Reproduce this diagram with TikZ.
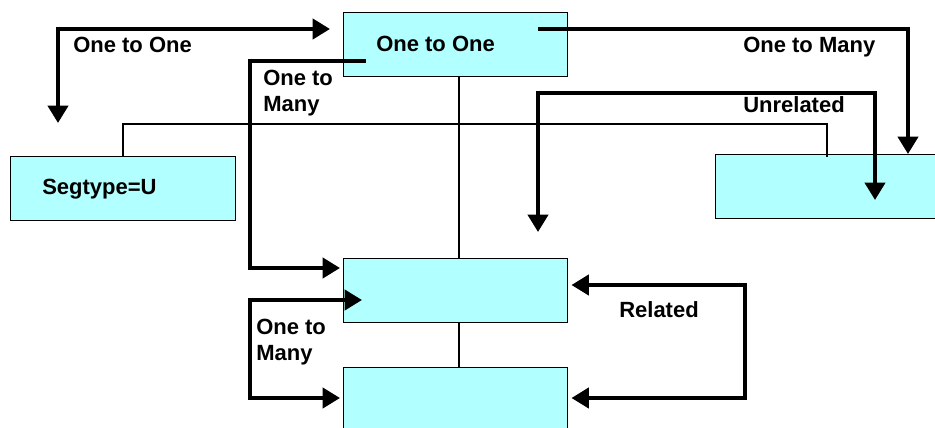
\documentclass[tikz,border=0pt]{standalone}
\usepackage{fontspec}
\setmainfont{Liberation Sans}
\usetikzlibrary{arrows.meta,calc}
\definecolor{boxcyan}{RGB}{178,255,255}
\begin{document}
\begin{tikzpicture}[x=0.75pt,y=-0.75pt,
  box/.style={draw=black,line width=1.1pt,fill=boxcyan,inner sep=0pt,anchor=north west,minimum width=168pt,minimum height=48pt},
  tip/.tip={Triangle[width=15pt,length=13pt]},
  conn/.style={line width=3pt,-tip},
  dconn/.style={line width=3pt,tip-tip},
  tree/.style={line width=1pt},
  lbl/.style={font=\bfseries\fontsize{16.5}{19.5}\selectfont,inner sep=0pt,align=left}]
\useasboundingbox (0,0) rectangle (935,428);
\clip (0,0) rectangle (935,428);
% boxes
\node[box] (top) at (343,12) {};
\node[box,minimum width=168.75pt] (seg) at (10,156) {};
\node[box,minimum width=180pt] (rbox) at (715,154) {};
\node[box] (mid) at (343,258) {};
\node[box,minimum height=60pt] (bot) at (343,367) {};
% tree lines
\coordinate (t1) at (123,124);
\coordinate (t2) at (827,124);
\coordinate (t3) at (827,157);
\draw[tree] (seg.north -| t1) -- (t1) -- (t2) -- (t3);
\draw[tree] (top.south -| 459,0) -- (mid.north -| 459,0);
\draw[tree] (mid.south -| 459,0) -- (bot.north -| 459,0);
% texts
\node[lbl,anchor=base west] (ttop) at (376,52) {One to One};
\node[lbl,anchor=base west] (tseg) at (42,194) {Segtype=U};
\node[lbl,anchor=base west] (l1) at (73,53) {One to One};
\node[lbl,anchor=base west] (l2) at (743,53) {One to Many};
\node[lbl,anchor=base west] (l3) at (743,113) {Unrelated};
\node[lbl,anchor=north west] (l4) at (263,70) {One to\\Many};
\node[lbl,anchor=north west] (l5) at (256,319) {One to\\Many};
\node[lbl,anchor=base west] (l6) at (619,317) {Related};
% connectors
\coordinate (a1) at (58,123);
\coordinate (a2) at (330,29);
\draw[dconn] (a1) |- (a2);
\coordinate (b1) at (366,61);
\coordinate (b2) at (250,61);
\draw[conn] (b1) -- (b2) |- ($(mid.north west)+(-3,10)$);
\coordinate (c1) at (538,29);
\coordinate (c2) at (908,29);
\draw[conn] (c1) -- (c2) -- (c2 |- rbox.north);
\coordinate (u1) at (538,232);
\coordinate (u2) at (538,93);
\coordinate (u3) at (875,93);
\coordinate (u4) at (875,200);
\draw[dconn] (u1) -- (u2) -- (u3) -- (u4);
\coordinate (d1) at (362,300);
\coordinate (d2) at (250,300);
\draw[dconn] (d1) -- (d2) |- ($(bot.north west)+(-3,31)$);
\coordinate (r1) at (745,285);
\draw[dconn] ($(mid.north east)+(3,27)$) -- (r1) |- ($(bot.north east)+(3,31)$);
\end{tikzpicture}
\end{document}
